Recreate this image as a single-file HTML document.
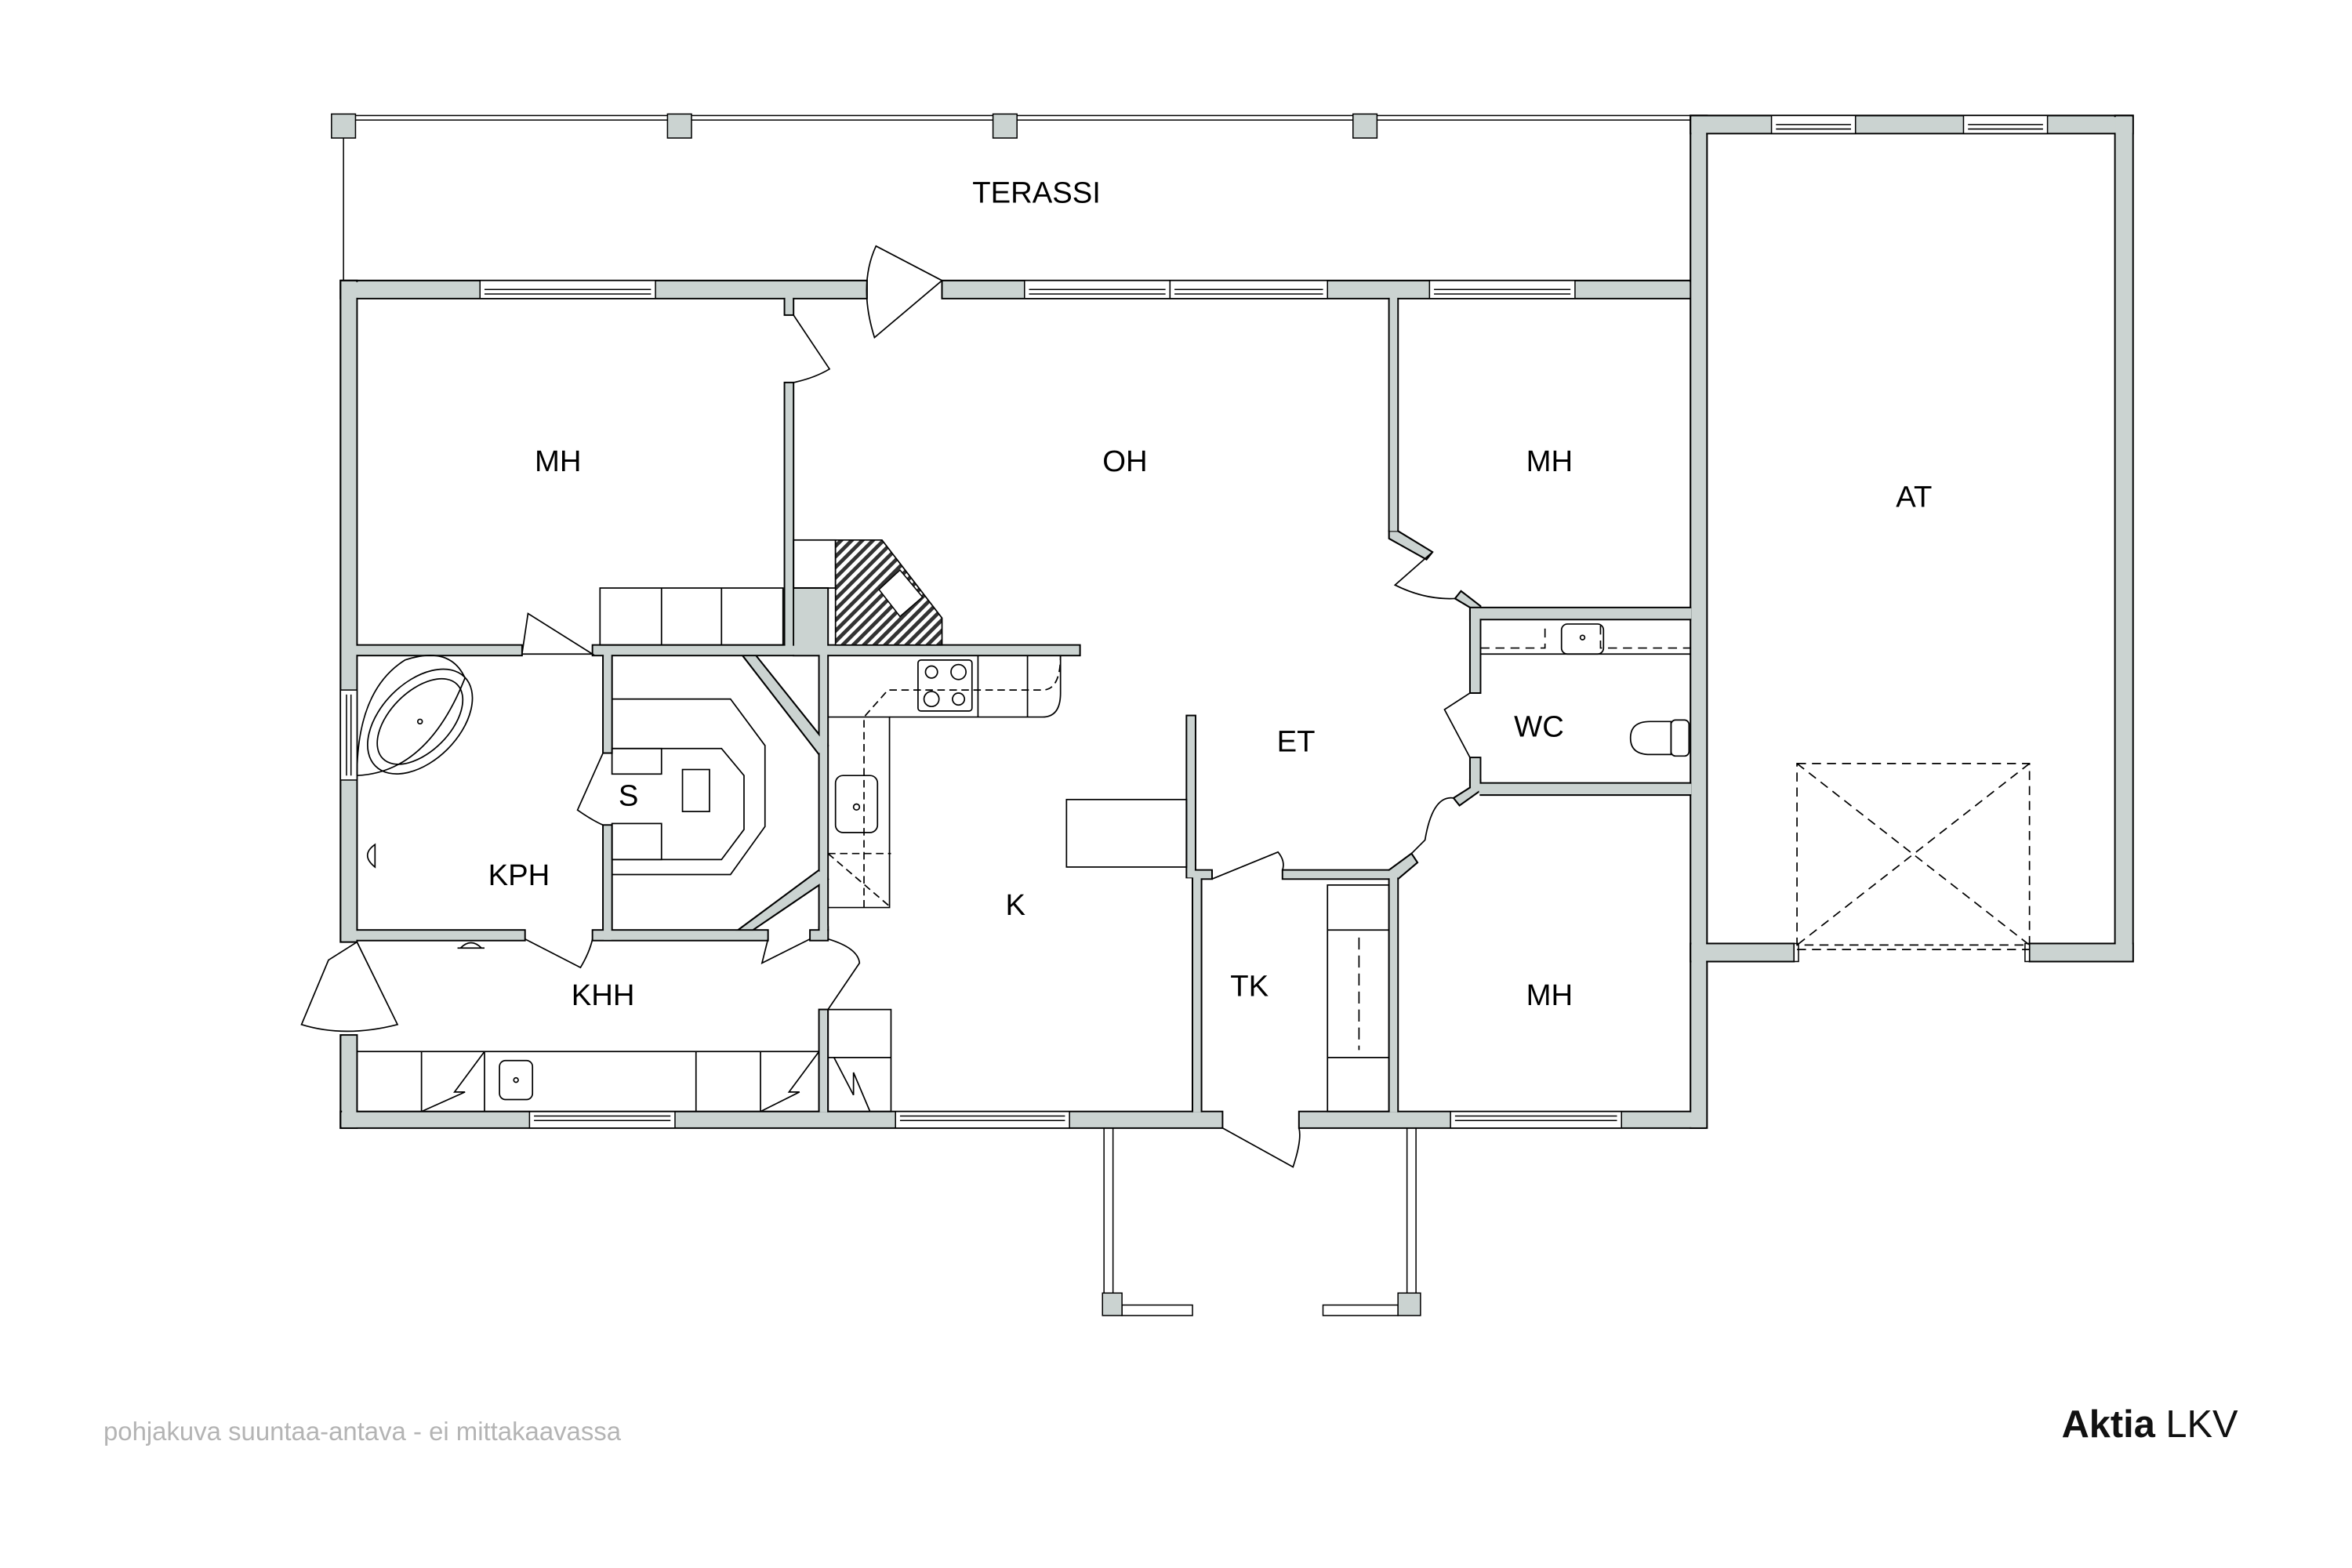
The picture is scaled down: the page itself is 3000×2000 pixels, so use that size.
<!DOCTYPE html>
<html><head><meta charset="utf-8"><style>
html,body{margin:0;padding:0;background:#fff;}
svg{display:block;}
text{font-family:"Liberation Sans",Arial,sans-serif;}
</style></head><body>
<svg width="3000" height="2000" viewBox="0 0 1568 1045.3" xmlns="http://www.w3.org/2000/svg">
<rect width="1568" height="1046" fill="#fff"/>
<g stroke="#000" stroke-width="0.8" fill="none">
<line x1="229" y1="77" x2="1127" y2="77"/>
<line x1="229" y1="80" x2="1127" y2="80"/>
<line x1="229" y1="90" x2="229" y2="187"/>
</g>
<g fill="#cbd3d1" stroke="#000" stroke-width="0.8">
<rect x="221" y="76" width="16" height="16"/>
<rect x="445" y="76" width="16" height="16"/>
<rect x="662" y="76" width="16" height="16"/>
<rect x="902" y="76" width="16" height="16"/>
</g>
<g id="walls" fill="#cbd3d1" stroke="#000" stroke-width="1.1">
<rect x="227" y="187" width="351" height="12"/>
<rect x="628" y="187" width="499" height="12"/>
<rect x="227" y="187" width="11" height="441"/>
<rect x="227" y="690" width="11" height="62"/>
<rect x="227" y="741" width="588" height="11"/>
<rect x="866" y="741" width="271" height="11"/>
<rect x="1127" y="77" width="11" height="675"/>
<rect x="1127" y="77" width="295" height="12"/>
<rect x="1410" y="77" width="12" height="564"/>
<rect x="1127" y="629" width="69" height="12"/>
<rect x="1353" y="629" width="69" height="12"/>
<rect x="523" y="199" width="6" height="11"/>
<rect x="523" y="255" width="6" height="181"/>
<rect x="238" y="430" width="110" height="7"/>
<rect x="395" y="430" width="325" height="7"/>
<rect x="529" y="392" width="23" height="45"/>
<rect x="402" y="437" width="6" height="65"/>
<rect x="402" y="550" width="6" height="76"/>
<rect x="546" y="437" width="6" height="183"/>
<rect x="546" y="673" width="6" height="68"/>
<rect x="546" y="618" width="6" height="8"/>
<rect x="238" y="620" width="112" height="7"/>
<rect x="395" y="620" width="117" height="7"/>
<rect x="540" y="620" width="12" height="7"/>
<polygon points="495,437 504,437 552,497 546,503"/>
<polygon points="546,580 552,586 502,620 492,620"/>
<rect x="791" y="477" width="6" height="108"/>
<rect x="795" y="580" width="13" height="6"/>
<rect x="855" y="580" width="77" height="6"/>
<rect x="795" y="586" width="6" height="155"/>
<rect x="926" y="580" width="6" height="161"/>
<polygon points="926,580 941,569 945,575 932,586"/>
<rect x="926" y="199" width="6" height="155"/>
<polygon points="926,354 932,354 955,368 951,373 926,359"/>
<polygon points="970,399 974,394 987,404 987,413 980,413 980,405"/>
<rect x="980" y="405" width="7" height="57"/>
<rect x="980" y="505" width="7" height="20"/>
<polygon points="980,520 987,520 987,527 973,537 969,532 980,525"/>
<rect x="987" y="405" width="140" height="8"/>
<rect x="987" y="522" width="140" height="8"/>
</g>
<g fill="#cbd3d1" stroke="none">
<rect x="228" y="188" width="349.5" height="10.5"/>
<rect x="628.5" y="188" width="498" height="10.5"/>
<rect x="228" y="188" width="9.5" height="439.5"/>
<rect x="228" y="690.5" width="9.5" height="61"/>
<rect x="228" y="741.5" width="586.5" height="10"/>
<rect x="866.5" y="741.5" width="270" height="10"/>
<rect x="1127.6" y="78" width="9.8" height="673.5"/>
<rect x="1128" y="78" width="293.5" height="10.5"/>
<rect x="1410.5" y="78" width="11" height="562.5"/>
<rect x="1128" y="629.5" width="67.5" height="11"/>
<rect x="1353.5" y="629.5" width="68" height="11"/>
<rect x="523.5" y="198" width="5" height="11.5"/>
<rect x="523.5" y="255.5" width="5" height="180"/>
<rect x="237" y="430.5" width="110.5" height="6"/>
<rect x="395.5" y="430.5" width="324" height="6"/>
<rect x="529.5" y="392.5" width="22" height="44"/>
<rect x="402.5" y="436" width="5" height="65.5"/>
<rect x="402.5" y="550.5" width="5" height="76"/>
<rect x="546.5" y="436" width="5" height="183.5"/>
<rect x="546.5" y="673.5" width="5" height="68"/>
<rect x="546.5" y="617" width="5" height="9"/>
<rect x="237" y="620.5" width="112.5" height="6"/>
<rect x="395.5" y="620.5" width="116" height="6"/>
<rect x="540.5" y="620.5" width="11" height="6"/>
<rect x="791.5" y="477.5" width="5" height="107.5"/>
<rect x="795.5" y="580.5" width="12" height="5"/>
<rect x="855.5" y="580.5" width="76" height="5"/>
<rect x="795.5" y="585" width="5" height="156.5"/>
<rect x="926.5" y="580" width="5" height="161.5"/>
<rect x="926.5" y="198" width="5" height="156"/>
<rect x="980.5" y="405.5" width="6" height="56"/>
<rect x="980.5" y="505.5" width="6" height="19"/>
<rect x="986" y="405.5" width="141.5" height="7"/>
<rect x="986" y="522.5" width="141.5" height="7"/>
</g>
<g fill="#fff" stroke="#000" stroke-width="0.8">
<rect x="320" y="187" width="117" height="12"/>
<rect x="683" y="187" width="97" height="12"/>
<rect x="780" y="187" width="105" height="12"/>
<rect x="953" y="187" width="97" height="12"/>
<rect x="1181" y="77" width="56" height="12"/>
<rect x="1309" y="77" width="56" height="12"/>
<rect x="353" y="741" width="97" height="11"/>
<rect x="597" y="741" width="116" height="11"/>
<rect x="967" y="741" width="114" height="11"/>
<rect x="227" y="460" width="11" height="60"/>
<rect x="1196" y="629" width="3" height="12"/>
<rect x="1350" y="629" width="3" height="12"/>
</g>
<g stroke="#000" stroke-width="0.8" fill="none">
<path d="M323 193H434M323 196H434M686 193H777M686 196H777M783 193H882M783 196H882M956 193H1047M956 196H1047"/>
<path d="M1184 83H1234M1184 86H1234M1312 83H1362M1312 86H1362"/>
<path d="M356 744H447M356 747H447M600 744H710M600 747H710M970 744H1078M970 747H1078"/>
<path d="M231 463V517M234 463V517"/>
</g>
<g stroke="#000" stroke-width="0.9" fill="none" stroke-dasharray="6,4">
<rect x="1198" y="509" width="155" height="121"/>
<line x1="1198" y1="509" x2="1353" y2="630"/>
<line x1="1353" y1="509" x2="1198" y2="630"/>
<line x1="1198" y1="633" x2="1353" y2="633"/>
</g>
<g stroke="#000" stroke-width="0.9" fill="none">
<path d="M628 187 L584 164 Q572 190 583 225 Z"/>
<path d="M529 210 L553 246 Q543 252 529 255"/>
<path d="M348 436 L352 409 L395 436 Z" fill="#fff"/>
<path d="M402 502 L385 540 Q395 547 402 550"/>
<path d="M350 626 L387 645 Q393 635 395 626"/>
<path d="M512 626 L508 642 L540 626"/>
<path d="M552 626 Q572 632 573 642 L552 673"/>
<path d="M238 628 L219 640 L201 683 Q230 692 265 683 L238 628"/>
<path d="M808 586 L852 568 Q857 574 855 580"/>
<path d="M815 752 L862 778 Q868 760 866 752"/>
<path d="M955 368 L930 390 Q950 400 970 399"/>
<path d="M980 462 L963 473 L980 505"/>
<path d="M969 532 Q955 530 950 560 L941 569"/>
</g>
<g stroke="#000" stroke-width="0.8" fill="none">
<path d="M736 752V862M742 752V862M938 752V862M944 752V862"/>
<rect x="748" y="870" width="47" height="7" fill="#fff"/>
<rect x="882" y="870" width="50" height="7" fill="#fff"/>
</g>
<g fill="#cbd3d1" stroke="#000" stroke-width="0.8">
<rect x="735" y="862" width="13" height="15"/>
<rect x="932" y="862" width="15" height="15"/>
</g>
<g stroke="#000" stroke-width="0.9" fill="none">
<rect x="400" y="392" width="122" height="38"/>
<line x1="441" y1="392" x2="441" y2="430"/><line x1="481" y1="392" x2="481" y2="430"/>
<rect x="529" y="360" width="28" height="32"/>
</g>
<defs><pattern id="h" width="5" height="5" patternUnits="userSpaceOnUse" patternTransform="rotate(45)"><rect width="5" height="5" fill="#fff"/><rect width="2.5" height="5" fill="#333"/></pattern></defs>
<polygon points="557,360 588,360 628,412 628,430 557,430" fill="url(#h)" stroke="#000" stroke-width="0.9"/>
<polygon points="586,393 600,380 615,398 600,411" fill="#fff" stroke="#000" stroke-width="0.8"/>
<g stroke="#000" stroke-width="0.9" fill="none">
<path d="M238 517 Q285 515 310 452 Q300 430 270 440 Q238 460 238 517"/>
<ellipse cx="280" cy="481" rx="42" ry="26" transform="rotate(-45 280 481)"/>
<ellipse cx="280" cy="481" rx="35" ry="20" transform="rotate(-45 280 481)"/>
<circle cx="280" cy="481" r="1.5"/>
<path d="M250 563 Q240 570 250 578 Z"/>
<path d="M307 632 Q314 625 321 632 Z M305 632H323"/>
</g>
<g stroke="#000" stroke-width="0.9" fill="none">
<path d="M408 466H487L510 497V551L487 583H408"/>
<path d="M408 499H481L496 517V553L481 573H408"/>
<rect x="408" y="499" width="33" height="17"/><rect x="408" y="549" width="33" height="24"/>
<rect x="455" y="513" width="18" height="28"/>
</g>
<g stroke="#000" stroke-width="0.9" fill="none">
<path d="M552 478H593V605H552"/>
<path d="M593 478H695Q707 478 707 462V437"/>
<rect x="612" y="440" width="36" height="34" rx="2"/>
<circle cx="621" cy="448" r="4"/><circle cx="639" cy="448" r="5"/><circle cx="621" cy="466" r="5"/><circle cx="639" cy="466" r="4"/>
<line x1="652" y1="437" x2="652" y2="478"/><line x1="685" y1="437" x2="685" y2="478"/>
<rect x="557" y="517" width="28" height="38" rx="5"/><circle cx="571" cy="538" r="2"/>
<rect x="711" y="533" width="80" height="45"/>
<rect x="552" y="673" width="42" height="68"/><line x1="552" y1="705" x2="594" y2="705"/>
<path d="M556 705 L569 730 V715 L580 741"/>
</g>
<g stroke="#000" stroke-width="0.9" fill="none" stroke-dasharray="5,3">
<path d="M576 605V478L592 460H695Q707 460 707 437"/>
<path d="M552 569 L594 605M552 569H594"/>
</g>
<g stroke="#000" stroke-width="0.9" fill="none">
<rect x="238" y="701" width="308" height="40"/>
<path d="M281 701V741M323 701V741M464 701V741M507 701V741"/>
<path d="M323 701 L303 728H310L281 741"/>
<path d="M546 701 L526 728H533L507 741"/>
<rect x="333" y="707" width="22" height="26" rx="4"/><circle cx="344" cy="720" r="1.5"/>
</g>
<g stroke="#000" stroke-width="0.9" fill="none">
<rect x="885" y="590" width="41" height="151"/>
<path d="M885 620H926M885 705H926"/>
<path d="M906 625V700" stroke-dasharray="8,4"/>
</g>
<g stroke="#000" stroke-width="0.9" fill="none">
<path d="M987 436H1127"/>
<path d="M987 432H1030V417M1067 417V432H1127" stroke-dasharray="6,4"/>
<rect x="1041" y="416" width="28" height="20" rx="4"/><circle cx="1055" cy="425" r="1.5"/>
<path d="M1114 481H1100Q1087 481 1087 492Q1087 503 1100 503H1114Z"/>
<rect x="1114" y="480" width="12" height="24" rx="3"/>
</g>
<g font-size="20" fill="#000" text-anchor="middle">
<text x="691" y="135">TERASSI</text>
<text x="372" y="314">MH</text>
<text x="750" y="314">OH</text>
<text x="1033" y="314">MH</text>
<text x="1276" y="338">AT</text>
<text x="864" y="501">ET</text>
<text x="1026" y="491">WC</text>
<text x="419" y="537">S</text>
<text x="346" y="590">KPH</text>
<text x="677" y="610">K</text>
<text x="402" y="670">KHH</text>
<text x="833" y="664">TK</text>
<text x="1033" y="670">MH</text>
</g>
<text x="69" y="960" font-size="17.2" fill="#b4b4b4">pohjakuva suuntaa-antava - ei mittakaavassa</text>
<text x="1492" y="958" font-size="25.5" fill="#111" text-anchor="end"><tspan font-weight="bold">Aktia</tspan> LKV</text>
</svg>
</body></html>
